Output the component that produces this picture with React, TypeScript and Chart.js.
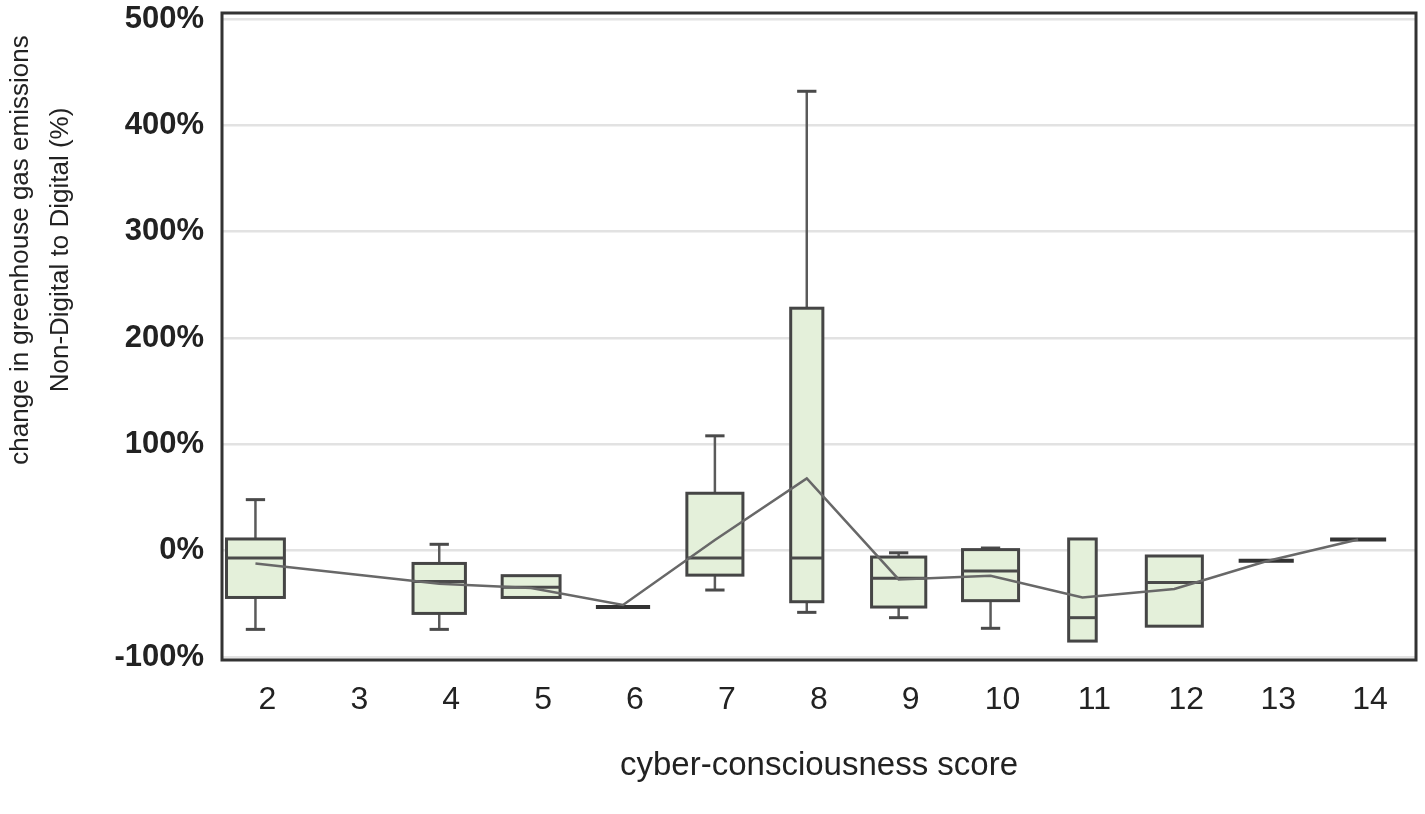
import React, { useEffect, useRef } from "react";
import { Chart, registerables } from "chart.js";

Chart.register(...registerables);

// ---- data ----
const scores = [2, 4, 5, 6, 7, 8, 9, 10, 11, 12, 13, 14];
const whiskerLow = [-74, -74, -44, -53, -37, -58, -63, -73, -85, -71, -9.5, 10.5];
const q1 = [-44, -59, -44, -53, -23, -48, -53, -47, -85, -71, -9.5, 10.5];
const medians = [-7, -29, -34.5, -53, -7, -7, -26, -19, -63, -30, -9.5, 10.5];
const q3 = [11, -12, -23.5, -53, 54, 228, -6, 1, 11, -5, -9.5, 10.5];
const whiskerHigh = [48, 6, -23.5, -53, 108, 432, -2, 2.5, 11, -5, -9.5, 10.5];
const means = [-12, -31, -35, -51, 10, 68, -27, -23.5, -44, -36, -10, 10.5];

const xTickLabels = [2, 3, 4, 5, 6, 7, 8, 9, 10, 11, 12, 13, 14];
const yTickValues = [-100, 0, 100, 200, 300, 400, 500];

const xTitle = "cyber-consciousness score";
const yTitleLines = ["change in greenhouse gas emissions", "Non-Digital to Digital (%)"];

// ---- style (box widths in x-axis units) ----
const boxWidthUnits = [0.63, 0.57, 0.63, 0.59, 0.61, 0.35, 0.59, 0.61, 0.3, 0.61, 0.6, 0.61];
const capWidthUnits = 0.21;

const FONT = "'Liberation Sans', Arial, Helvetica, sans-serif";

const boxPlugin = {
  id: "boxes",
  beforeDatasetsDraw(chart: any) {
    const ctx = chart.ctx;
    const xs = chart.scales.x;
    const ys = chart.scales.y;
    ctx.save();
    ctx.beginPath();
    ctx.rect(chart.chartArea.left, chart.chartArea.top, chart.chartArea.right - chart.chartArea.left, chart.chartArea.bottom - chart.chartArea.top);
    ctx.clip();
    scores.forEach((s, i) => {
      const cx = xs.getPixelForValue(s);
      const left = xs.getPixelForValue(s - boxWidthUnits[i] / 2);
      const right = xs.getPixelForValue(s + boxWidthUnits[i] / 2);
      const capL = xs.getPixelForValue(s - capWidthUnits / 2);
      const capR = xs.getPixelForValue(s + capWidthUnits / 2);
      const yLo = ys.getPixelForValue(whiskerLow[i]);
      const yQ1 = ys.getPixelForValue(q1[i]);
      const yMed = ys.getPixelForValue(medians[i]);
      const yQ3 = ys.getPixelForValue(q3[i]);
      const yHi = ys.getPixelForValue(whiskerHigh[i]);

      // whiskers
      ctx.strokeStyle = "#5a5a5a";
      ctx.lineWidth = 2.5;
      if (whiskerHigh[i] > q3[i]) {
        ctx.beginPath();
        ctx.moveTo(cx, yQ3);
        ctx.lineTo(cx, yHi);
        ctx.stroke();
        ctx.lineWidth = 3;
        ctx.strokeStyle = "#4a4a4a";
        ctx.beginPath();
        ctx.moveTo(capL, yHi);
        ctx.lineTo(capR, yHi);
        ctx.stroke();
      }
      ctx.strokeStyle = "#5a5a5a";
      ctx.lineWidth = 2.5;
      if (whiskerLow[i] < q1[i]) {
        ctx.beginPath();
        ctx.moveTo(cx, yQ1);
        ctx.lineTo(cx, yLo);
        ctx.stroke();
        ctx.lineWidth = 3;
        ctx.strokeStyle = "#4a4a4a";
        ctx.beginPath();
        ctx.moveTo(capL, yLo);
        ctx.lineTo(capR, yLo);
        ctx.stroke();
      }

      if (q3[i] === q1[i]) {
        ctx.strokeStyle = "#333333";
        ctx.lineWidth = 4;
        ctx.beginPath();
        ctx.moveTo(left, yQ1);
        ctx.lineTo(right, yQ1);
        ctx.stroke();
        return;
      }
      // box
      ctx.fillStyle = "#e4f0da";
      ctx.fillRect(left, yQ3, right - left, yQ1 - yQ3);
      ctx.strokeStyle = "#454545";
      ctx.lineWidth = 3;
      ctx.strokeRect(left, yQ3, right - left, yQ1 - yQ3);
      // median
      ctx.strokeStyle = "#4a4a4a";
      ctx.lineWidth = 3;
      ctx.beginPath();
      ctx.moveTo(left, yMed);
      ctx.lineTo(right, yMed);
      ctx.stroke();
    });
    ctx.restore();
  },
  afterDraw(chart: any) {
    const ctx = chart.ctx;
    const { left, right, top, bottom } = chart.chartArea;
    ctx.save();
    // frame
    ctx.strokeStyle = "#333333";
    ctx.lineWidth = 3;
    ctx.strokeRect(left, top, right - left, bottom - top);
    // y title (two lines, rotated)
    ctx.fillStyle = "#222222";
    ctx.font = `26px ${FONT}`;
    ctx.textAlign = "center";
    ctx.textBaseline = "middle";
    const centerY = 250;
    const lineXs = [21, 61];
    yTitleLines.forEach((t, k) => {
      ctx.save();
      ctx.translate(lineXs[k], centerY);
      ctx.rotate(-Math.PI / 2);
      ctx.fillText(t, 0, 0);
      ctx.restore();
    });
    ctx.restore();
  },
};

export default function App() {
  const canvasRef = useRef<HTMLCanvasElement | null>(null);

  useEffect(() => {
    document.body.style.margin = "0";
    const canvas = canvasRef.current;
    if (!canvas) return;
    const chart = new Chart(canvas, {
      type: "line",
      data: {
        datasets: [
          {
            label: "mean",
            data: scores.map((s, i) => ({ x: s, y: means[i] })),
            borderColor: "#686868",
            borderWidth: 2.5,
            pointRadius: 0,
            tension: 0,
            fill: false,
          },
        ],
      },
      options: {
        animation: false,
        responsive: false,
        devicePixelRatio: 1,
        layout: { padding: { top: 13, right: 9, left: 0, bottom: 0 } },
        plugins: {
          legend: { display: false },
          tooltip: { enabled: false },
        },
        scales: {
          x: {
            type: "linear",
            min: 1.636,
            max: 14.63,
            afterBuildTicks: (scale: any) => {
              scale.ticks = xTickLabels.map((v) => ({ value: v }));
            },
            afterFit: (scale: any) => {
              scale.height = 154;
              scale.paddingLeft = 0;
              scale.paddingRight = 0;
            },
            grid: { display: false, drawTicks: false },
            border: { display: false },
            ticks: {
              autoSkip: false,
              maxRotation: 0,
              labelOffset: 12,
              padding: 21,
              color: "#222222",
              font: { family: FONT, size: 32 },
              callback: (v: any) => String(v),
            },
            title: {
              display: true,
              text: xTitle,
              color: "#222222",
              font: { family: FONT, size: 33 },
              padding: { top: 0, bottom: 28 },
            },
          },
          y: {
            type: "linear",
            min: -102.8,
            max: 505.6,
            afterBuildTicks: (scale: any) => {
              scale.ticks = yTickValues.map((v) => ({ value: v }));
            },
            afterFit: (scale: any) => {
              scale.width = 222;
              scale.paddingTop = 0;
              scale.paddingBottom = 0;
            },
            grid: { color: "#e2e2e2", lineWidth: 2.5, drawTicks: false },
            border: { display: false },
            ticks: {
              padding: 18,
              color: "#222222",
              font: { family: FONT, size: 31, weight: "bold" },
              callback: (v: any) => `${v}%`,
            },
          },
        },
      },
      plugins: [boxPlugin],
    });
    return () => chart.destroy();
  }, []);

  return (
    <div style={{ width: 1425, height: 814, background: "#ffffff" }}>
      <canvas ref={canvasRef} width={1425} height={814} style={{ display: "block", width: 1425, height: 814 }} />
    </div>
  );
}
